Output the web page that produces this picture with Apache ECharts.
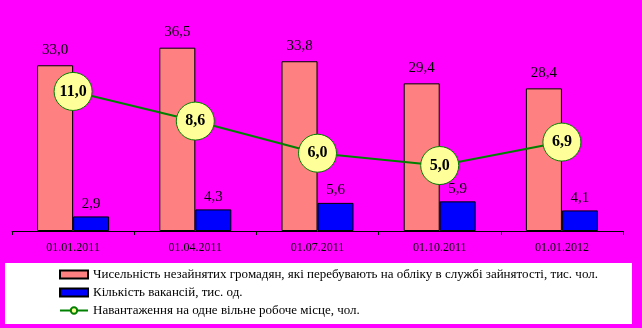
<!DOCTYPE html>
<html>
<head>
<meta charset="utf-8">
<script src="https://cdn.jsdelivr.net/npm/echarts@6/dist/echarts.min.js"></script>
<style>
  html, body { margin: 0; padding: 0; background: #FF00FF; }
  #chart { width: 642px; height: 328px; }
</style>
</head>
<body>
<div id="chart"></div>
<script>
// Reporting dates
const dates = ['01.01.2011', '01.04.2011', '01.07.2011', '01.10.2011', '01.01.2012'];
// Unemployed citizens registered with the employment service, thousand persons
const unemployed = [33.0, 36.5, 33.8, 29.4, 28.4];
// Vacancies, thousand units
const vacancies = [2.9, 4.3, 5.6, 5.9, 4.1];
// Load per one vacant job, persons
const loadPerJob = [11.0, 8.6, 6.0, 5.0, 6.9];

const seriesNames = [
  'Чисельність незайнятих громадян, які перебувають на обліку в службі зайнятості, тис. чол.',
  'Кількість вакансій, тис. од.',
  'Навантаження на одне вільне робоче місце, чол.'
];

const serif = '"Liberation Serif", "DejaVu Serif", serif';
const fmt = p => p.value.toFixed(1).replace('.', ',');

const chart = echarts.init(document.getElementById('chart'), null, { renderer: 'canvas' });

chart.setOption({
  backgroundColor: '#FF00FF',
  animation: false,
  textStyle: { fontFamily: serif },
  graphic: [{
    type: 'rect',
    left: 5, top: 263,
    shape: { width: 627, height: 61 },
    style: { fill: '#FFFFFF' },
    z: 0
  }],
  legend: {
    orient: 'vertical',
    left: 59,
    top: 268,
    itemWidth: 28,
    itemHeight: 8,
    itemGap: 5,
    padding: 0,
    textStyle: { fontFamily: serif, fontSize: 13, color: '#000' },
    data: [
      { name: seriesNames[0], icon: 'rect' },
      { name: seriesNames[1], icon: 'rect' },
      { name: seriesNames[2] }
    ]
  },
  grid: { left: 12, right: 19, top: 5, bottom: 97 },
  xAxis: {
    type: 'category',
    data: dates,
    boundaryGap: true,
    axisLine: { lineStyle: { color: '#000', width: 1 } },
    axisTick: { show: true, length: 4, lineStyle: { color: '#000' } },
    axisLabel: { fontFamily: serif, fontSize: 12, color: '#000', margin: 11 }
  },
  yAxis: [
    { type: 'value', min: 0, max: 45, show: false, splitLine: { show: false } },
    { type: 'value', min: -0.3, max: 18, show: false, splitLine: { show: false } }
  ],
  series: [
    {
      name: seriesNames[0],
      type: 'bar',
      data: unemployed,
      barWidth: 36,
      barGap: '0%',
      itemStyle: { color: '#FF8080', borderColor: '#000', borderWidth: 1 },
      label: {
        show: true, position: 'top', distance: 8,
        fontFamily: serif, fontSize: 15, color: '#000',
        formatter: fmt
      },
      z: 2
    },
    {
      name: seriesNames[1],
      type: 'bar',
      data: vacancies,
      barWidth: 36,
      barGap: '0%',
      itemStyle: { color: '#0000FF', borderColor: '#000', borderWidth: 1 },
      label: {
        show: true, position: 'top', distance: 5,
        fontFamily: serif, fontSize: 15, color: '#000',
        formatter: fmt
      },
      z: 2
    },
    {
      name: seriesNames[2],
      type: 'line',
      yAxisIndex: 1,
      data: loadPerJob,
      symbol: 'circle',
      symbolSize: 38,
      lineStyle: { color: '#008000', width: 2 },
      itemStyle: { color: '#FFFF99', borderColor: '#008000', borderWidth: 1 },
      label: {
        show: true, position: 'inside',
        fontFamily: serif, fontSize: 16, fontWeight: 'bold', color: '#000',
        formatter: fmt
      },
      z: 5
    }
  ]
});
</script>
</body>
</html>
